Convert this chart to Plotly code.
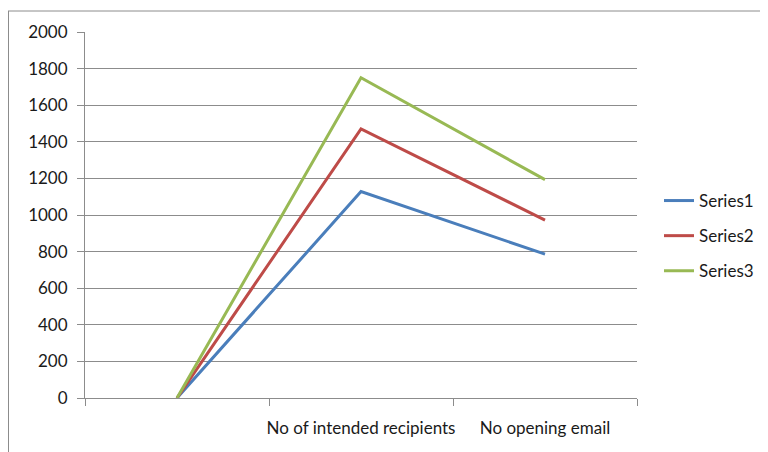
import plotly.graph_objects as go

categories = ["", "No of intended recipients", "No opening email"]
series_names = ["Series1", "Series2", "Series3"]
series1 = [0, 1128, 786]
series2 = [0, 1470, 972]
series3 = [0, 1750, 1193]
colors = ["#4A7EBB", "#BE4B48", "#98B954"]

OFF = 8  # page body margin
W, H = 768 - OFF, 452 - OFF
L, T = 85 - OFF, 32 - OFF
R = W - (637 - OFF)
B = H - (398 - OFF)
pw, ph = W - L - R, H - T - B

xs = list(range(len(categories)))
fig = go.Figure()
for i, (name, vals) in enumerate(zip(series_names, [series1, series2, series3])):
    fig.add_trace(go.Scatter(x=xs, y=vals, mode="lines", name=name,
                             legendgroup=name,
                             line=dict(color=colors[i], width=3)))

font = dict(family="Lato, 'Noto Sans', sans-serif", size=17, color="#1a1a1a")
grid = "#8c8c8c"
fig.update_layout(
    width=W, height=H, margin=dict(l=L, r=R, t=T, b=B, autoexpand=False),
    paper_bgcolor="white", plot_bgcolor="white", font=font,
    showlegend=True,
    legend=dict(x=(659 - 85) / pw, y=(398 - 236) / ph, xanchor="left", yanchor="middle",
                tracegroupgap=10, font=font, bgcolor="rgba(0,0,0,0)"),
    xaxis=dict(range=[-0.5, 2.5], tickvals=xs, ticktext=categories, ticks="",
               showgrid=False, zeroline=False, showline=True, linecolor=grid,
               linewidth=1, tickfont=font, automargin=False, ticklabelstandoff=15,
               minor=dict(tick0=-0.5, dtick=1, ticks="outside", ticklen=7,
                          tickcolor=grid, showgrid=False)),
    yaxis=dict(range=[0, 2000], dtick=200, showgrid=True, gridcolor=grid,
               gridwidth=1, zeroline=False, showline=True, linecolor=grid,
               ticks="outside", ticklen=7, tickcolor=grid, tickfont=font,
               automargin=False, ticklabelstandoff=6),
    shapes=[
        dict(type="line", xref="paper", yref="paper",
             x0=(0 - L) / pw, x1=(W + 2 - L) / pw,
             y0=(H - B - 3) / ph, y1=(H - B - 3) / ph,
             line=dict(color=grid, width=1)),
        dict(type="line", xref="paper", yref="paper",
             x0=(0.5 - L) / pw, x1=(0.5 - L) / pw,
             y0=(H - B - 3) / ph, y1=-(B + 2) / ph,
             line=dict(color=grid, width=1)),
    ],
)
fig.write_html("out.html")
